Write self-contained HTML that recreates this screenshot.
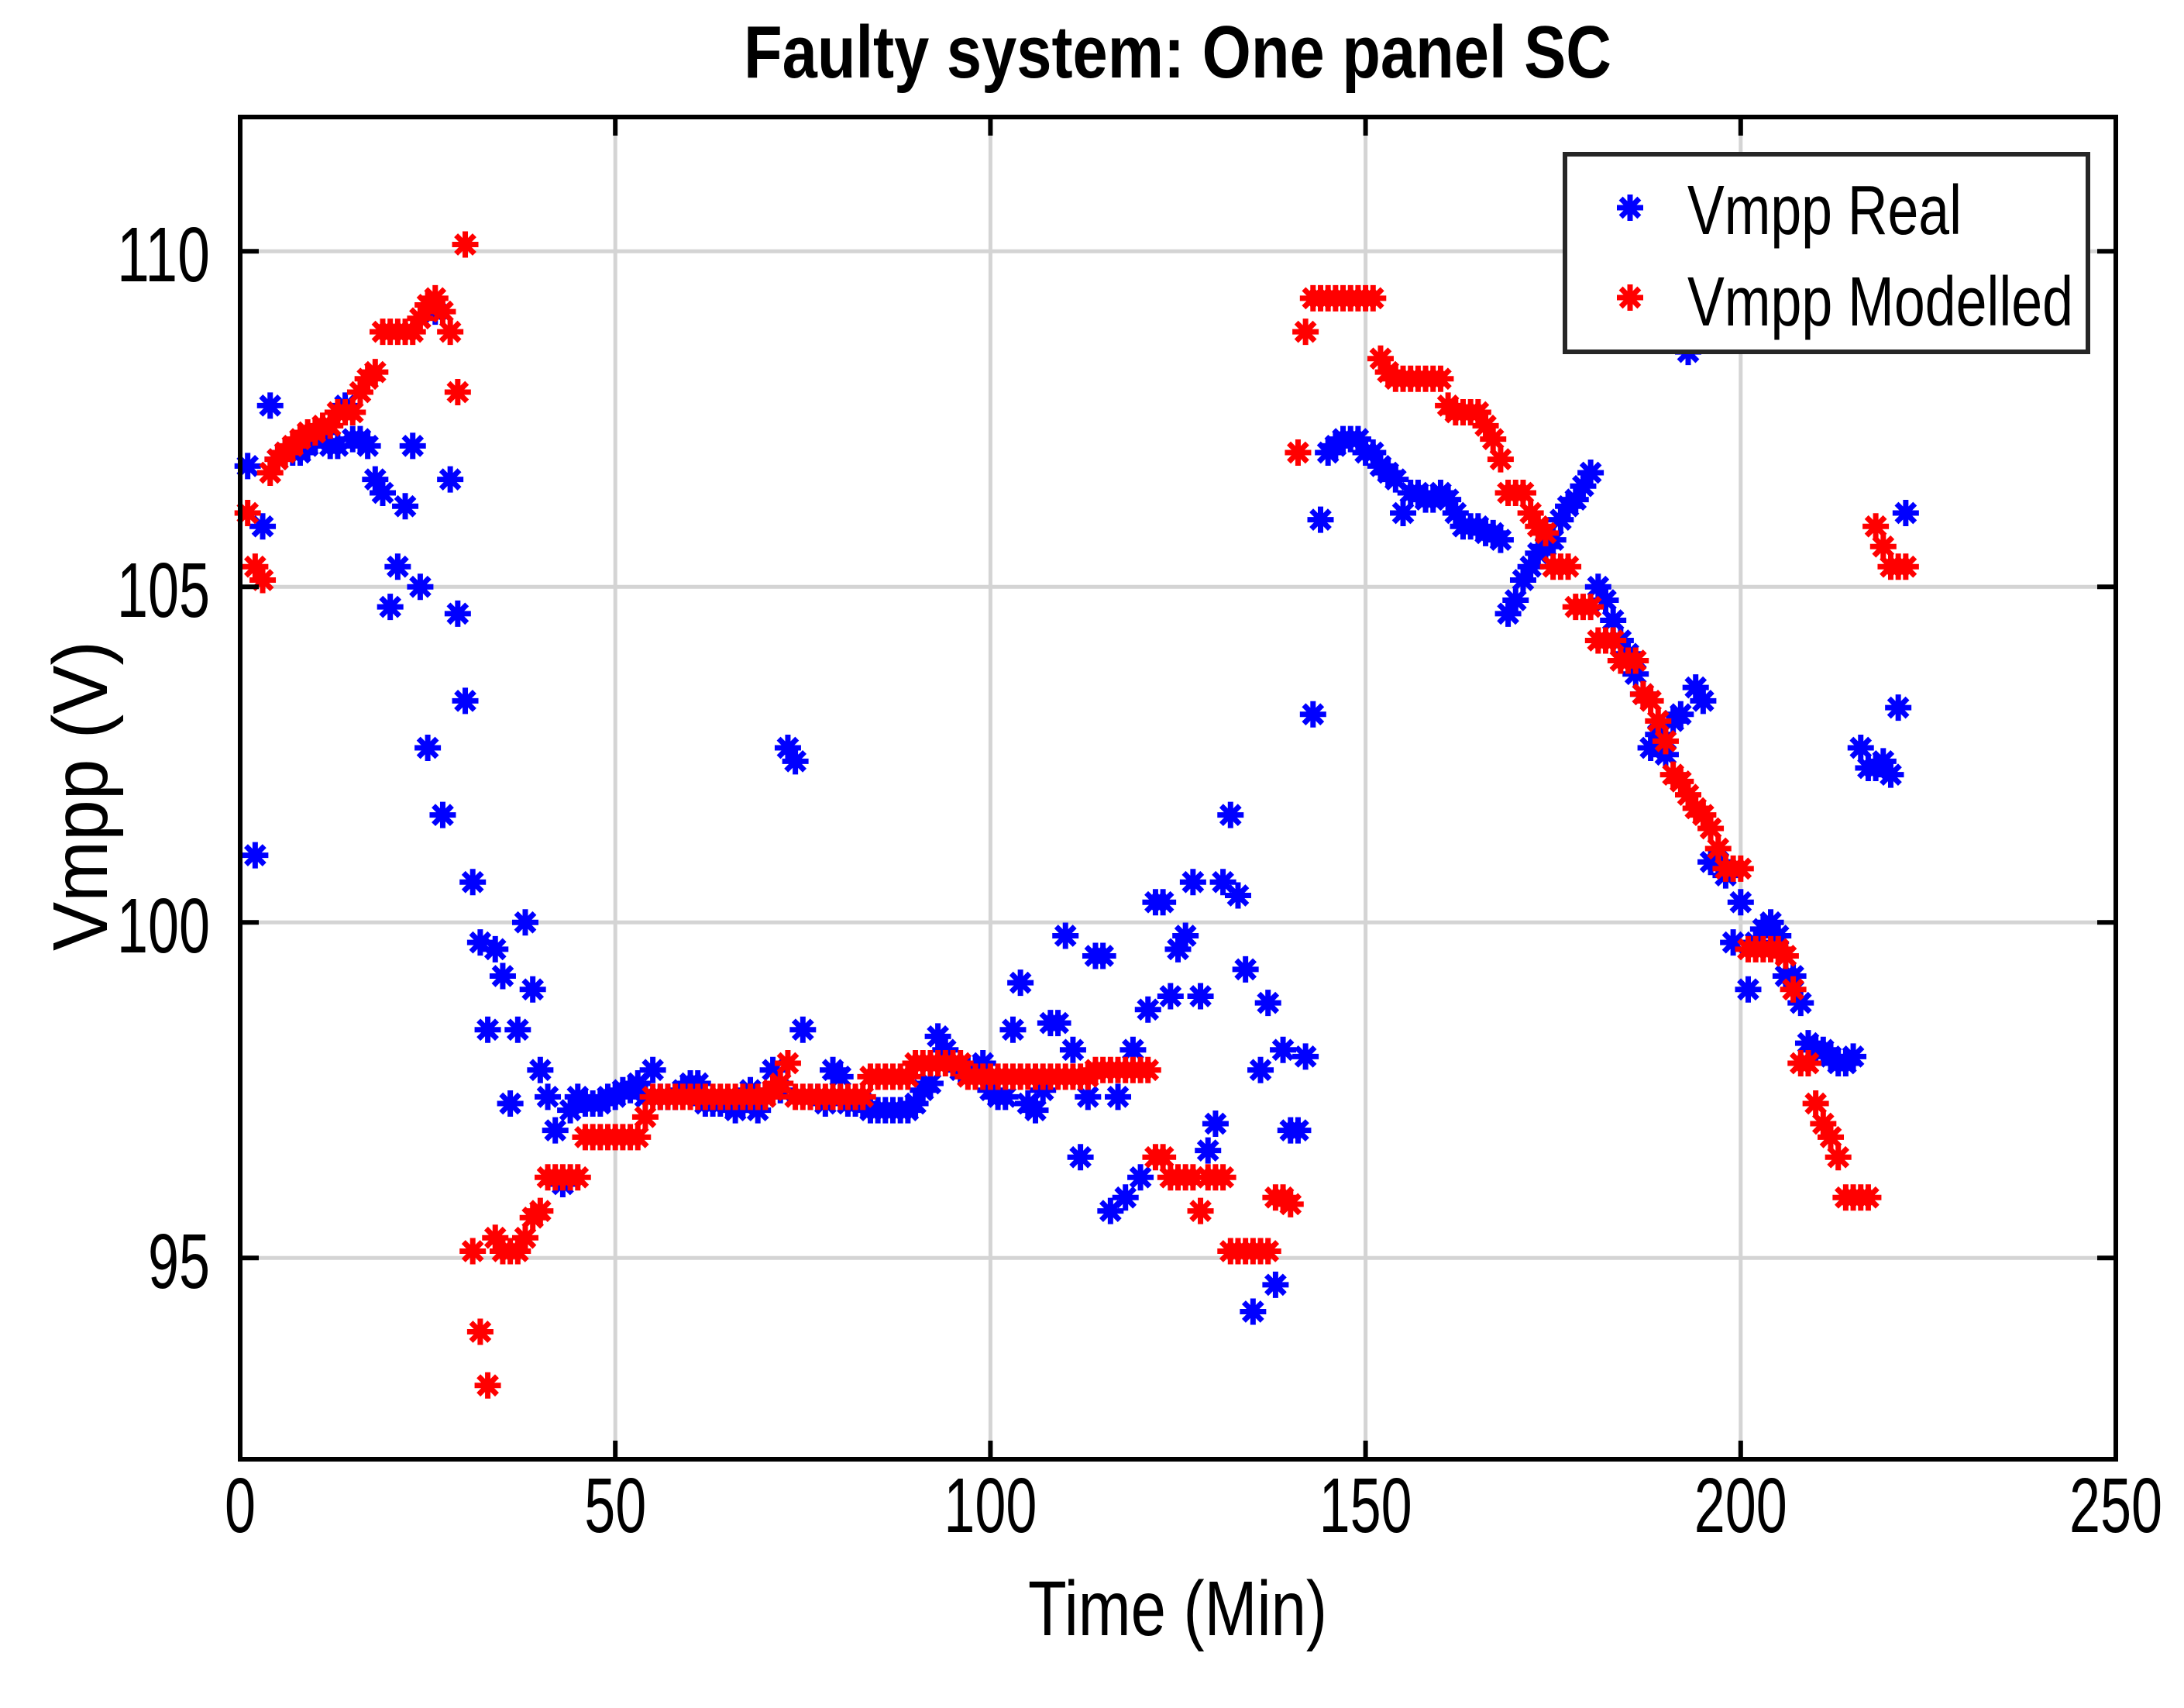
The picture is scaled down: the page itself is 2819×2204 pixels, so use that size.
<!DOCTYPE html>
<html><head><meta charset="utf-8"><style>
html,body{margin:0;padding:0;background:#fff}
svg{display:block}
text{font-family:"Liberation Sans",sans-serif;fill:#000}
</style></head><body>
<svg id="chart" width="2819" height="2204" viewBox="0 0 2819 2204" xmlns="http://www.w3.org/2000/svg">
<rect width="2819" height="2204" fill="#fff"/>
<text x="1520" y="100" text-anchor="middle" font-size="96" font-weight="bold" textLength="1120" lengthAdjust="spacingAndGlyphs">Faulty system: One panel SC</text>
<g id="grid"></g>
<g id="marks"></g>
<rect x="310" y="151" width="2421" height="1732" fill="none" stroke="#000" stroke-width="6"/>
<g id="ticks"></g>
<text x="1520" y="2110" text-anchor="middle" font-size="100" textLength="386" lengthAdjust="spacingAndGlyphs">Time (Min)</text>
<text transform="translate(138,1027) rotate(-90)" text-anchor="middle" font-size="100" textLength="400" lengthAdjust="spacingAndGlyphs">Vmpp (V)</text>
<g>
<rect x="2020" y="199" width="675" height="255" fill="#fff" stroke="#262626" stroke-width="6"/>
<g id="legmarks"></g>
<text x="2178" y="302" font-size="90" textLength="354" lengthAdjust="spacingAndGlyphs">Vmpp Real</text>
<text x="2178" y="420" font-size="90" textLength="498" lengthAdjust="spacingAndGlyphs">Vmpp Modelled</text>
</g>
</svg>
<script>
const realValues=[106.8,101,105.9,107.7,106.9,107,107,107,107.1,107.2,107.3,107.1,107.1,107.7,107.2,107.2,107.1,106.6,106.4,104.7,105.3,106.2,107.1,105,102.6,109.1,101.6,106.6,104.6,103.3,100.6,99.7,98.4,99.6,99.2,97.3,98.4,100,99,97.8,97.4,96.9,96.1,97.2,97.4,97.3,97.3,97.3,97.4,97.4,97.5,97.5,97.6,97.4,97.8,97.4,97.4,97.4,97.5,97.6,97.6,97.3,97.3,97.3,97.3,97.2,97.3,97.5,97.2,97.4,97.8,97.5,102.6,102.4,98.4,97.4,97.4,97.3,97.8,97.7,97.3,97.3,97.3,97.2,97.2,97.2,97.2,97.2,97.2,97.3,97.5,97.6,98.3,98.1,97.9,97.8,97.8,97.8,97.9,97.5,97.4,97.4,98.4,99.1,97.3,97.2,97.5,98.5,98.5,99.8,98.1,96.5,97.4,99.5,99.5,95.7,97.4,95.9,98.1,96.2,98.7,100.3,100.3,98.9,99.6,99.8,100.6,98.9,96.6,97,100.6,101.6,100.4,99.3,94.2,97.8,98.8,94.6,98.1,96.9,96.9,98,103.1,106,107,107.1,107.2,107.2,107.2,107,107,106.8,106.7,106.6,106.1,106.4,106.4,106.3,106.3,106.4,106.3,106.1,105.9,105.9,105.9,105.8,105.8,105.7,104.6,104.8,105.1,105.3,105.5,105.6,105.7,106,106.2,106.3,106.5,106.7,105,104.8,104.5,104.2,104,103.7,103.4,102.6,102.8,102.5,103,103.1,108.5,103.5,103.3,100.9,100.9,100.7,99.7,100.3,99,99.7,99.9,100,99.8,99.2,99.2,98.8,98.2,98.1,98.1,98,97.9,97.9,98,102.6,102.3,102.3,102.4,102.2,103.2,106.1];
const modelValues=[106.1,105.3,105.1,106.7,106.9,107,107.1,107.2,107.3,107.3,107.4,107.4,107.6,107.6,107.6,107.9,108.1,108.2,108.8,108.8,108.8,108.8,108.8,109,109.2,109.3,109.1,108.8,107.9,110.1,95.1,93.9,93.1,95.3,95.1,95.1,95.1,95.3,95.6,95.7,96.2,96.2,96.2,96.2,96.2,96.8,96.8,96.8,96.8,96.8,96.8,96.8,96.8,97.1,97.4,97.4,97.4,97.4,97.4,97.4,97.4,97.4,97.4,97.4,97.4,97.4,97.4,97.4,97.4,97.4,97.5,97.6,97.9,97.4,97.4,97.4,97.4,97.4,97.4,97.4,97.4,97.4,97.4,97.7,97.7,97.7,97.7,97.7,97.7,97.9,97.9,97.9,97.9,97.9,97.9,97.9,97.7,97.7,97.7,97.7,97.7,97.7,97.7,97.7,97.7,97.7,97.7,97.7,97.7,97.7,97.7,97.7,97.7,97.8,97.8,97.8,97.8,97.8,97.8,97.8,97.8,96.5,96.5,96.2,96.2,96.2,96.2,95.7,96.2,96.2,96.2,95.1,95.1,95.1,95.1,95.1,95.1,95.9,95.9,95.8,107,108.8,109.3,109.3,109.3,109.3,109.3,109.3,109.3,109.3,109.3,108.4,108.2,108.1,108.1,108.1,108.1,108.1,108.1,108.1,107.7,107.6,107.6,107.6,107.6,107.4,107.2,106.9,106.4,106.4,106.4,106.1,105.9,105.8,105.3,105.3,105.3,104.7,104.7,104.7,104.2,104.2,104.2,103.9,103.9,103.9,103.4,103.3,103,102.7,102.2,102.1,101.9,101.7,101.6,101.4,101.1,100.8,100.8,100.8,99.6,99.6,99.6,99.6,99.6,99.5,99,97.9,97.9,97.3,97,96.8,96.5,95.9,95.9,95.9,95.9,105.9,105.6,105.3,105.3,105.3];
const xTicks=[0,50,100,150,200,250];
const yTicks=[95,100,105,110];
const xTickLabels=["0","50","100","150","200","250"];
const yTickLabels=["95","100","105","110"];

const NS="http://www.w3.org/2000/svg";
const X0=310,X1=2731,Y0=151,Y1=1883,XMIN=0,XMAX=250,YMIN=92,YMAX=112;
function sx(v){return X0+(v-XMIN)/(XMAX-XMIN)*(X1-X0);}
function sy(v){return Y1-(v-YMIN)/(YMAX-YMIN)*(Y1-Y0);}
function mk(tag,attrs,parent){const e=document.createElementNS(NS,tag);for(const k in attrs)e.setAttribute(k,attrs[k]);parent.appendChild(e);return e;}
const grid=document.getElementById('grid'),ticks=document.getElementById('ticks'),marks=document.getElementById('marks');
xTicks.forEach((t,i)=>{
  const x=sx(t);
  if(t>XMIN&&t<XMAX){
    const g=mk('line',{x1:x,y1:Y0,x2:x,y2:Y1,stroke:'#d4d4d4','stroke-width':5},grid);
    
    
    mk('line',{x1:x,y1:Y1,x2:x,y2:Y1-24,stroke:'#000','stroke-width':6},ticks);
    mk('line',{x1:x,y1:Y0,x2:x,y2:Y0+24,stroke:'#000','stroke-width':6},ticks);
  }
  const tx=mk('text',{x:x,y:1977,'text-anchor':'middle','font-size':100,textLength:xTickLabels[i].length*40,lengthAdjust:'spacingAndGlyphs'},ticks);
  
  
  tx.textContent=xTickLabels[i];
});
yTicks.forEach((t,i)=>{
  const y=sy(t);
  const g=mk('line',{x1:X0,y1:y,x2:X1,y2:y,stroke:'#d4d4d4','stroke-width':5},grid);
  
  
  mk('line',{x1:X0,y1:y,x2:X0+24,y2:y,stroke:'#000','stroke-width':6},ticks);
  mk('line',{x1:X1,y1:y,x2:X1-24,y2:y,stroke:'#000','stroke-width':6},ticks);
  const tx=mk('text',{x:271,y:y+39,'text-anchor':'end','font-size':100,textLength:yTickLabels[i].length*40,lengthAdjust:'spacingAndGlyphs'},ticks);
  
  
  tx.textContent=yTickLabels[i];
});
function star(x,y,color,parent,name){
  const r=17;
  const d=`M${x-r},${y}H${x+r}M${x},${y-r}V${y+r}M${x-r*0.7},${y-r*0.7}L${x+r*0.7},${y+r*0.7}M${x-r*0.7},${y+r*0.7}L${x+r*0.7},${y-r*0.7}`;
  const p=mk('path',{d:d,stroke:color,'stroke-width':7,fill:'none'},parent);
  
  
}
realValues.forEach((v,i)=>star(sx(i+1),sy(v),'#0000ff',marks,'real-point'));
modelValues.forEach((v,i)=>star(sx(i+1),sy(v),'#ff0000',marks,'modelled-point'));
const lm=document.getElementById('legmarks');
star(2104,268,'#0000ff',lm,'legend-marker-real');
star(2104,384,'#ff0000',lm,'legend-marker-modelled');
</script>
</body></html>
